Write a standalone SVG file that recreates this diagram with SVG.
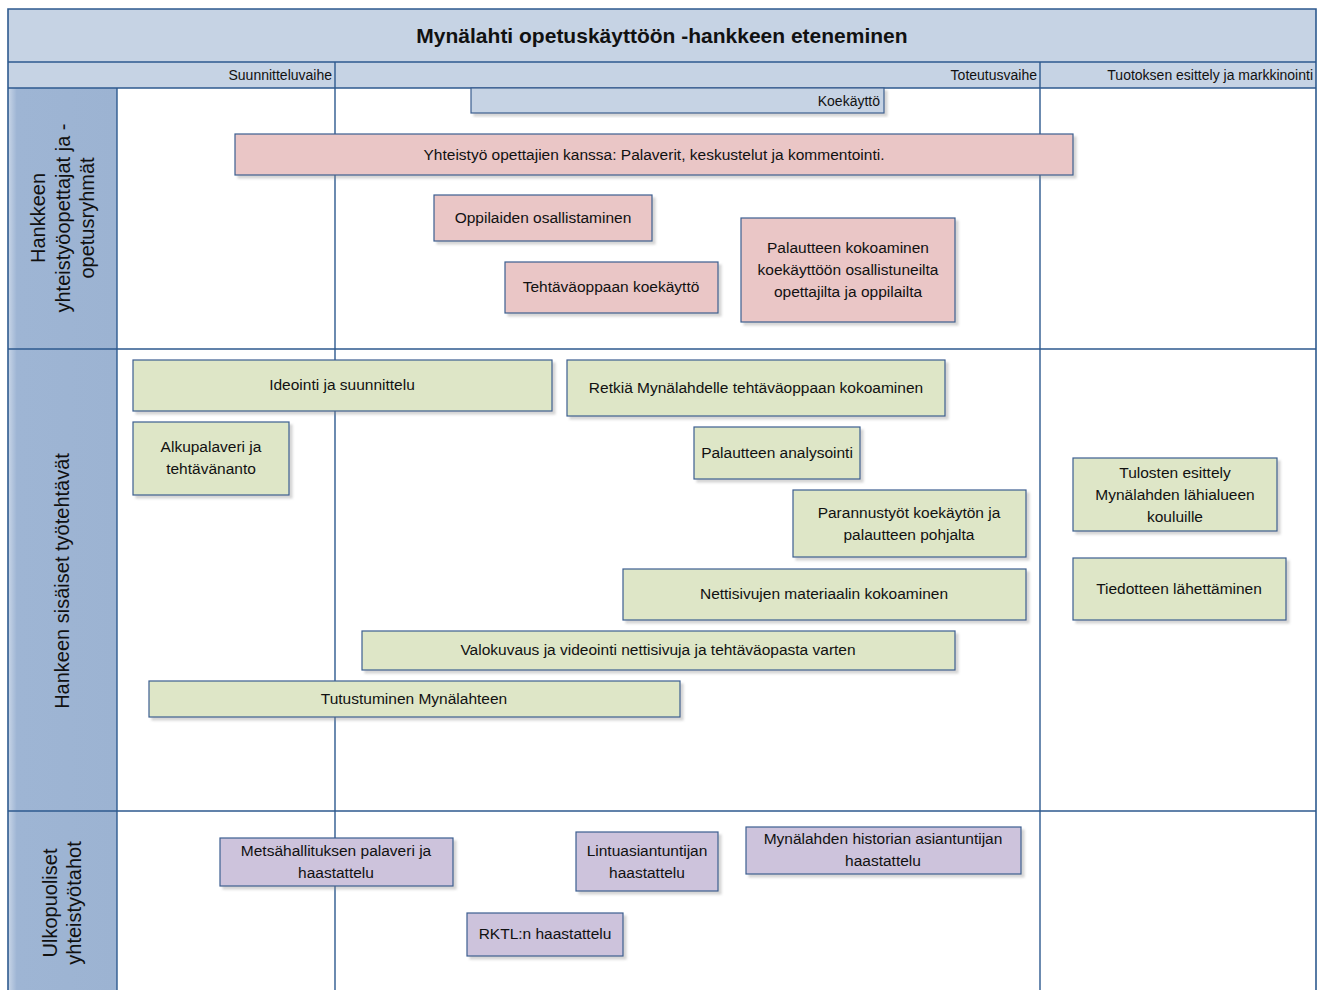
<svg xmlns="http://www.w3.org/2000/svg" width="1325" height="990" viewBox="0 0 1325 990">
<style>
text{font-family:"Liberation Sans",Arial,sans-serif;fill:#111;}
.t{font-size:15.5px;text-anchor:middle;}
.ph{font-size:14px;text-anchor:end;}
.ln{font-size:20px;text-anchor:middle;}
.frame{fill:none;stroke:#2e5a8f;stroke-width:1.6;}
.grid{stroke:#2e5a8f;stroke-width:1.4;fill:none;}
.box{stroke:#3b5f90;stroke-width:1.2;filter:url(#sh);}
.pink{fill:#eac6c6;}
.green{fill:#dee6c7;}
.purple{fill:#cdc3dc;}
.blue{fill:#c6d3e4;}
</style>
<defs>
<filter id="sh" x="-5%" y="-10%" width="115%" height="130%">
<feDropShadow dx="3" dy="3" stdDeviation="1" flood-color="#888" flood-opacity="0.35"/>
</filter>
<linearGradient id="lg" x1="0" y1="0" x2="1" y2="0">
<stop offset="0" stop-color="#c9d6e8"/>
<stop offset="0.08" stop-color="#9eb5d4"/>
<stop offset="1" stop-color="#9cb3d2"/>
</linearGradient>
</defs>
<rect width="1325" height="990" fill="#ffffff"/>
<g id="pool">
<rect x="8" y="9" width="1308" height="53" fill="#c6d3e4"/>
<rect x="8" y="62" width="1308" height="26" fill="#c6d3e4"/>
<rect x="8" y="88" width="109" height="902" fill="url(#lg)"/>
<text x="662" y="43" style="font-size:21px;font-weight:bold;text-anchor:middle;">Mynälahti opetuskäyttöön -hankkeen eteneminen</text>
</g>
<g id="phases">
<text class="ph" x="332" y="80">Suunnitteluvaihe</text>
<text class="ph" x="1037" y="80">Toteutusvaihe</text>
<text class="ph" x="1313" y="80">Tuotoksen esittely ja markkinointi</text>
</g>
<g id="grid">
<path class="grid" d="M8 62H1316M8 88H1316M8 349H1316M8 811H1316M117 88V990M335 62V990M1040 62V990"/>
<path class="frame" d="M8 992V9H1316V992"/>
</g>
<g id="lane1">
<text class="ln" transform="translate(45 218) rotate(-90)">Hankkeen</text>
<text class="ln" transform="translate(70 218) rotate(-90)">yhteistyöopettajat ja -</text>
<text class="ln" transform="translate(94 218) rotate(-90)">opetusryhmät</text>
</g>
<g id="lane2">
<text class="ln" transform="translate(69 581) rotate(-90)">Hankeen sisäiset työtehtävät</text>
</g>
<g id="lane3">
<text class="ln" transform="translate(57 903) rotate(-90)">Ulkopuoliset</text>
<text class="ln" transform="translate(81 903) rotate(-90)">yhteistyötahot</text>
</g>
<g id="connectors"></g>
<g id="n-koekaytto"><rect class="box blue" x="471" y="88" width="413" height="25"/><text class="ph" x="880" y="106">Koekäyttö</text></g>
<g id="n-yhteistyo"><rect class="box pink" x="235" y="134" width="838" height="41"/><text class="t" x="654" y="160">Yhteistyö opettajien kanssa: Palaverit, keskustelut ja kommentointi.</text></g>
<g id="n-oppilaiden"><rect class="box pink" x="434" y="195" width="218" height="46"/><text class="t" x="543" y="223">Oppilaiden osallistaminen</text></g>
<g id="n-tehtavaoppaan"><rect class="box pink" x="505" y="262" width="213" height="51"/><text class="t" x="611" y="292">Tehtäväoppaan koekäyttö</text></g>
<g id="n-palautteen-kok"><rect class="box pink" x="741" y="218" width="214" height="104"/><text class="t" x="848" y="253">Palautteen kokoaminen</text><text class="t" x="848" y="275">koekäyttöön osallistuneilta</text><text class="t" x="848" y="297">opettajilta ja oppilailta</text></g>
<g id="n-ideointi"><rect class="box green" x="133" y="360" width="419" height="51"/><text class="t" x="342" y="390">Ideointi ja suunnittelu</text></g>
<g id="n-retkia"><rect class="box green" x="567" y="360" width="378" height="56"/><text class="t" x="756" y="393">Retkiä Mynälahdelle tehtäväoppaan kokoaminen</text></g>
<g id="n-alkupalaveri"><rect class="box green" x="133" y="422" width="156" height="73"/><text class="t" x="211" y="452">Alkupalaveri ja</text><text class="t" x="211" y="474">tehtävänanto</text></g>
<g id="n-palautteen-an"><rect class="box green" x="694" y="427" width="166" height="52"/><text class="t" x="777" y="458">Palautteen analysointi</text></g>
<g id="n-parannustyot"><rect class="box green" x="793" y="490" width="233" height="67"/><text class="t" x="909" y="518">Parannustyöt koekäytön ja</text><text class="t" x="909" y="540">palautteen pohjalta</text></g>
<g id="n-nettisivujen"><rect class="box green" x="623" y="569" width="403" height="51"/><text class="t" x="824" y="599">Nettisivujen materiaalin kokoaminen</text></g>
<g id="n-valokuvaus"><rect class="box green" x="362" y="631" width="593" height="39"/><text class="t" x="658" y="655">Valokuvaus ja videointi nettisivuja ja tehtäväopasta varten</text></g>
<g id="n-tutustuminen"><rect class="box green" x="149" y="681" width="531" height="36"/><text class="t" x="414" y="704">Tutustuminen Mynälahteen</text></g>
<g id="n-tulosten"><rect class="box green" x="1073" y="458" width="204" height="73"/><text class="t" x="1175" y="478">Tulosten esittely</text><text class="t" x="1175" y="500">Mynälahden lähialueen</text><text class="t" x="1175" y="522">kouluille</text></g>
<g id="n-tiedotteen"><rect class="box green" x="1073" y="558" width="213" height="62"/><text class="t" x="1179" y="594">Tiedotteen lähettäminen</text></g>
<g id="n-metsahallitus"><rect class="box purple" x="220" y="838" width="233" height="48"/><text class="t" x="336" y="856">Metsähallituksen palaveri ja</text><text class="t" x="336" y="878">haastattelu</text></g>
<g id="n-lintu"><rect class="box purple" x="576" y="832" width="142" height="59"/><text class="t" x="647" y="856">Lintuasiantuntijan</text><text class="t" x="647" y="878">haastattelu</text></g>
<g id="n-historia"><rect class="box purple" x="746" y="827" width="275" height="47"/><text class="t" x="883" y="844">Mynälahden historian asiantuntijan</text><text class="t" x="883" y="866">haastattelu</text></g>
<g id="n-rktl"><rect class="box purple" x="467" y="913" width="156" height="43"/><text class="t" x="545" y="939">RKTL:n haastattelu</text></g>
</svg>
